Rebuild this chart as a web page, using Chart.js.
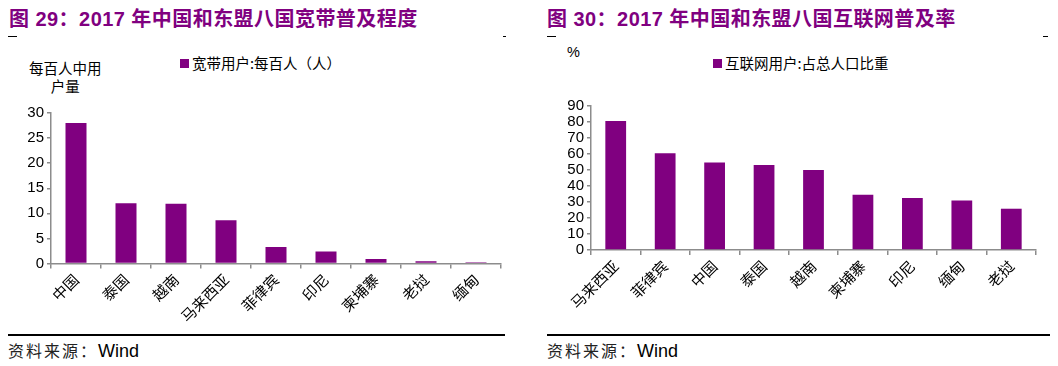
<!DOCTYPE html>
<html>
<head>
<meta charset="utf-8">
<script src="https://cdn.jsdelivr.net/npm/chart.js"></script>
<style>
body{margin:0;width:1058px;height:366px;background:#fff;position:relative;overflow:hidden;font-family:"Liberation Sans","Noto Sans CJK SC",sans-serif}
.abs{position:absolute;white-space:nowrap}
.title{font-weight:bold;color:#800080;font-size:20px;top:3px;letter-spacing:0.45px}
.dash{position:absolute;height:1px;background:#000}
.rule{position:absolute;height:1.5px;background:#000;top:334px}
.src{top:338px;font-size:16px;color:#222;font-family:"Noto Sans CJK SC",sans-serif;letter-spacing:2px}
.src b{font-weight:normal;font-family:"Liberation Sans",sans-serif;font-size:18px;letter-spacing:0;color:#000}
.leg{font-family:"Noto Sans CJK SC",sans-serif;font-size:14.5px;color:#000;top:52px}
.leg i{display:inline-block;width:9px;height:9px;background:#800080;margin-right:3px;vertical-align:1px}
.unit{font-family:"Noto Sans CJK SC",sans-serif;font-size:14.5px;color:#000;text-align:center;line-height:18px}
canvas{position:absolute;top:0}
</style>
</head>
<body>
<div class="abs title" style="left:9px">图 29：2017 年中国和东盟八国宽带普及程度</div>
<div class="abs title" style="left:547px">图 30：2017 年中国和东盟八国互联网普及率</div>
<div class="dash" style="left:8px;top:36px;width:9px"></div>
<div class="dash" style="left:503px;top:36px;width:3px"></div>
<div class="dash" style="left:547px;top:36px;width:9px"></div>
<div class="dash" style="left:1043px;top:36px;width:5px"></div>

<div class="abs unit" style="left:29px;top:59px">每百人中用<br>户量</div>
<div class="abs unit" style="left:567px;top:43px;font-family:'Liberation Sans',sans-serif">%</div>
<div class="abs leg" style="left:180px"><i></i>宽带用户:每百人（人）</div>
<div class="abs leg" style="left:713px"><i></i>互联网用户:占总人口比重</div>

<canvas id="c1" width="530" height="330" style="left:0"></canvas>
<canvas id="c2" width="528" height="330" style="left:530px"></canvas>

<div class="rule" style="left:8px;width:497px"></div>
<div class="rule" style="left:547px;width:503px"></div>
<div class="abs src" style="left:8px">资料来源：<b>Wind</b></div>
<div class="abs src" style="left:547px">资料来源：<b>Wind</b></div>

<script>
const broadbandCountries = ['中国','泰国','越南','马来西亚','菲律宾','印尼','柬埔寨','老挝','缅甸']
const broadbandPer100 = [28, 12, 11.9, 8.6, 3.3, 2.4, 0.9, 0.45, 0.25]
const internetCountries = ['马来西亚','菲律宾','中国','泰国','越南','柬埔寨','印尼','缅甸','老挝']
const internetShare = [80.7, 60.5, 54.7, 53.2, 50, 34.5, 32.5, 31, 25.8]

const purple = '#800080'
const axisGray = '#8c8c8c'

function makeChart(id, labels, values, yMax, yStep, yWidth, xHeight, pad) {
  return new Chart(document.getElementById(id), {
    type: 'bar',
    data: {
      labels: labels,
      datasets: [{
        data: values,
        backgroundColor: purple,
        barPercentage: 0.42,
        categoryPercentage: 1
      }]
    },
    options: {
      responsive: false,
      animation: false,
      layout: { padding: pad },
      plugins: { legend: { display: false }, tooltip: { enabled: false } },
      scales: {
        x: {
          grid: { offset: true, drawOnChartArea: false, tickLength: 5, color: axisGray, lineWidth: 1.5 },
          border: { color: axisGray, width: 1.5 },
          ticks: {
            minRotation: 45, maxRotation: 45, padding: 2, color: '#000', autoSkip: false,
            font: { family: 'Noto Sans CJK SC', size: 15 }
          },
          afterFit: s => { s.height = xHeight }
        },
        y: {
          min: 0, max: yMax,
          grid: { drawOnChartArea: false, tickLength: 4, color: axisGray, lineWidth: 1.5 },
          border: { color: axisGray, width: 1.5 },
          ticks: {
            stepSize: yStep, padding: 3, color: '#000', autoSkip: false,
            font: { family: 'Liberation Sans', size: 15 }
          },
          afterFit: s => { s.width = yWidth }
        }
      }
    }
  })
}

makeChart('c1', broadbandCountries, broadbandPer100, 30, 5, 51, 66.5, { top: 113, right: 29, left: 0, bottom: 0 })
makeChart('c2', internetCountries, internetShare, 90, 10, 61, 80, { top: 106, right: 22, left: 0, bottom: 0 })
</script>
</body>
</html>
